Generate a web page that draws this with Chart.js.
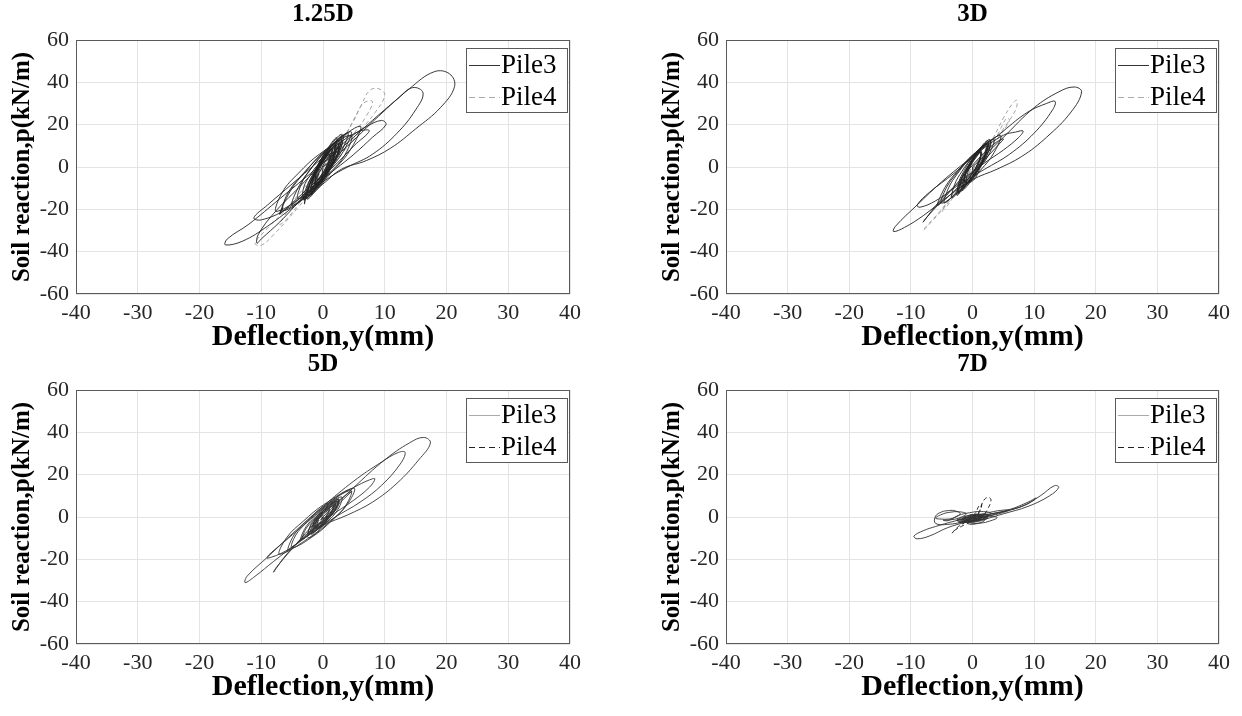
<!DOCTYPE html>
<html>
<head>
<meta charset="utf-8">
<script src="https://cdn.jsdelivr.net/npm/chart.js@4.4.1/dist/chart.umd.min.js"></script>
<style>
  body { margin: 0; background: #fff; width: 1242px; height: 716px; overflow: hidden; position: relative; }
  canvas { position: absolute; }
</style>
</head>
<body>
<canvas id="p1" width="621" height="358" style="left:0;top:0"></canvas>
<canvas id="p2" width="621" height="358" style="left:621px;top:0"></canvas>
<canvas id="p3" width="621" height="358" style="left:0;top:350px"></canvas>
<canvas id="p4" width="621" height="358" style="left:621px;top:350px"></canvas>
<script>
// axis ticks and labels
const xTickValues = [-40, -30, -20, -10, 0, 10, 20, 30, 40];
const yTickValues = [-60, -40, -20, 0, 20, 40, 60];
const xTitle = "Deflection,y(mm)";
const yTitle = "Soil reaction,p(kN/m)";
const seriesNames = ["Pile3", "Pile4"];
const panelTitles = ["1.25D", "3D", "5D", "7D"];

// p-y loops, [deflection mm, soil reaction kN/m]
const pile3_125D = [
  [0,0],[4,10],[9,24],[14,37],[18,45],[20.5,44],[21.3,38],[19,28],[15,18],[11,9],[7,3],[3,-1],[0,-8],[-4,-17],[-9,-28],[-13,-35],[-15.8,-36.8],[-15.5,-34],[-12,-27],[-7,-15],[-2,-3],[3,9],
  [8,22],[12,32],[14.5,37.5],[16.2,35],[15,27],[12,16],[8,6],[4,0],[1,-5],[-3,-14],[-7,-26],[-10,-34],[-10.7,-36],[-10.5,-32],[-8,-22],[-4,-10],[0,2],[4,13],
  [7,19],[9.5,22],[10.2,20],[8,14],[5,6],[2,-1],[-2,-10],[-6,-20],[-10,-25],[-11.2,-24],[-9,-18],[-5,-8],[-1,2],[3,12],[6,17],[7.5,17],[5,10],[2,1],[-2,-9],[-5,-17],[-7,-22],[-6.5,-19],
  [-7,-22.3],[-5.6,-11.9],[-2.7,-1.5],[0.9,8.9],[6,19.3],[4.6,8.9],[1.7,-1.5],[-1.9,-11.9],
  [-6.5,-20.7],[-5.3,-11.4],[-2.8,-2],[0.2,7.4],[4.5,16.7],[3.3,7.4],[0.8,-2],[-2.2,-11.4],
  [-5,-18.1],[-4,-9.6],[-2,-1],[0.5,7.6],[4,16.1],[3,7.6],[1,-1],[-1.5,-9.6],
  [-7.5,-21],[-6.6,-12],[-4,-3],[-0.6,6],[4.5,15],[3.6,6],[1,-3],[-2.4,-12],
  [-3,-17.5],[-2.5,-9.3],[-1.2,-1],[0.5,7.3],[3,15.5],[2.5,7.3],[1.2,-1],[-0.5,-9.3],
  [-2.4,-13.5],[-1.95,-7],[-0.8,-0.5],[0.65,6],[2.8,12.5],[2.35,6],[1.2,-0.5],[-0.25,-7],
  [-2.5,-15.2],[-2.2,-8.6],[-1.2,-2],[0,4.6],[1.9,11.2],[1.55,4.6],[0.6,-2],[-0.6,-8.6],
  [-1.7,-9.9],[-1.5,-5],[-0.7,0],[0.3,5],[1.9,9.9],[1.7,5],[0.9,0],[-0.1,-5],
  [-3,-15.5],[-2.2,-8.5],[-0.9,-1.5],[0.6,5.5],[2.6,12.5],[1.8,5.5],[0.5,-1.5],[-1,-8.5],
  [-1.4,-7.9],[-1.2,-3.7],[-0.6,0.5],[0.2,4.7],[1.4,8.9],[1.2,4.7],[0.6,0.5],[-0.2,-3.7],
  [-1.5,-8],[-1.4,-3],[-0.6,2],[0.6,7],[2.5,12],[2.4,7],[1.6,2],[0.4,-3],
  [-1,-6],[-0.9,-3],[-0.5,0],[0.1,3],[1,6],[0.9,3],[0.5,0],[-0.1,-3],
  [-3.2,-14.8],[-3.1,-9.4],[-2.1,-4],[-0.7,1.4],[1.6,6.8],[1.5,1.4],[0.5,-4],[-0.9,-9.4],
  [-1.2,-7],[-0.95,-1.5],[0,4],[1.25,9.5],[3.2,15],[2.95,9.5],[2,4],[0.75,-1.5],
  [-1.9,-13.1],[-1.3,-7.1],[-0.3,-1],[0.9,5.1],[2.5,11.1],[1.9,5.1],[0.9,-1],[-0.3,-7.1],
  [-3.1,-15.5],[-2.6,-9],[-1.4,-2.5],[0,4],[2.1,10.5],[1.6,4],[0.4,-2.5],[-1,-9],
  [-1.2,-7],[-1.15,-2.5],[-0.4,2],[0.65,6.5],[2.4,11],[2.35,6.5],[1.6,2],[0.55,-2.5],
  [-2.6,-14.9],[-2.1,-7.7],[-1,-0.5],[0.3,6.7],[2.2,13.9],[1.7,6.7],[0.6,-0.5],[-0.7,-7.7],
  [-1.9,-12],[-1.75,-7.5],[-1.1,-3],[-0.25,1.5],[1.1,6],[0.95,1.5],[0.3,-3],[-0.55,-7.5],
  [-4,-15],[-3.5,-8],[-2,-1],[0,6],[3,13],[2.5,6],[1,-1],[-1,-8],
  [-0.9,-6.2],[-0.7,-2.6],[-0.2,1],[0.5,4.6],[1.5,8.2],[1.3,4.6],[0.8,1],[0.1,-2.6],
  [-2,-12.5],[-1.8,-7],[-0.9,-1.5],[0.2,4],[2,9.5],[1.8,4],[0.9,-1.5],[-0.2,-7],[0,0]
];
const pile4_125D = [
  [0,0],[3,12],[6,28],[7.5,36],[9,37],[10,34],[8.5,26],[6,17],[3,6],[0,-5],[-4,-19],[-8,-32],[-10,-37],[-11,-36],[-9,-29],[-6,-20],[-2,-6],[2,8],[5,22],[6.5,30],[8,31],[7,24],[4,12],[1,0],[-3,-14],[-6,-25],[-7,-27],[-5,-18],[-2,-8],[1,4],[3,12],[4,16],[3,8],[0,-3],[-3,-13],[-4,-16],[-2,-7],[1,3],[2,8],[1,3],[-1,-5],[-2,-8],[0,0]
];

const pile3_3D = [
  [0,0],[5,14],[10,28],[14,35.5],[16.5,37.8],[17.7,35.5],[16,26],[12,14],[8,5],[4,-1],[0,-6],[-4,-14],[-8,-23],[-11,-28.5],[-12.8,-30.5],[-12.5,-28],[-9,-18],[-5,-7],[0,5],[5,17],
  [9,26],[12,30],[13.4,31],[13,27],[10,16],[6,6],[2,-1],[-2,-8],[-6,-16],[-8.5,-19],[-9,-18],[-7,-12],[-3,-3],[1,7],[5,15],
  [7,16.5],[8.2,17],[7.5,14],[5,8],[2,2],[-2,-7],[-5,-15],[-8,-26],[-7.5,-24],[-5,-16],[-2,-6],[1,4],[4,12],[5,13],
  [-5.5,-18],[-4.5,-9.8],[-2.3,-1.5],[0.5,6.8],[4.5,15],[3.5,6.8],[1.3,-1.5],[-1.5,-9.8],
  [-5,-17.1],[-4.2,-9.6],[-2.3,-2],[0,5.6],[3.4,13.1],[2.6,5.6],[0.7,-2],[-1.6,-9.6],
  [-2.5,-13.5],[-2.1,-7.3],[-1,-1],[0.4,5.3],[2.5,11.5],[2.1,5.3],[1,-1],[-0.4,-7.3],
  [-1.7,-11],[-1.4,-5.5],[-0.5,0],[0.6,5.5],[2.3,11],[2,5.5],[1.1,0],[0,-5.5],
  [-1.9,-9],[-1.7,-5],[-1,-1],[-0.1,3],[1.3,7],[1.1,3],[0.4,-1],[-0.5,-5],
  [-3.3,-14.6],[-2.9,-8.3],[-1.7,-2],[-0.1,4.3],[2.3,10.6],[1.9,4.3],[0.7,-2],[-0.9,-8.3],
  [-1,-6.1],[-0.8,-2.8],[-0.3,0.5],[0.4,3.8],[1.4,7.1],[1.2,3.8],[0.7,0.5],[0,-2.8],
  [-1.2,-7],[-1.05,-2],[-0.2,3],[0.95,8],[2.8,13],[2.65,8],[1.8,3],[0.65,-2],
  [-2.2,-12],[-1.7,-6.5],[-0.7,-1],[0.5,4.5],[2.2,10],[1.7,4.5],[0.7,-1],[-0.5,-6.5],
  [-2.3,-11.9],[-2.2,-7],[-1.4,-2],[-0.4,3],[1.3,7.9],[1.2,3],[0.4,-2],[-0.6,-7],
  [-2.3,-12.5],[-1.85,-6.3],[-0.7,0],[0.75,6.3],[2.9,12.5],[2.45,6.3],[1.3,0],[0.15,-6.3],
  [-1.3,-7.2],[-1.16,-3.6],[-0.6,0],[0.14,3.6],[1.3,7.2],[1.16,3.6],[0.6,0],[-0.14,-3.6],
  [-4.5,-17],[-3.9,-10],[-2.4,-3],[-0.4,4],[2.5,11],[1.9,4],[0.4,-3],[-1.6,-10],
  [-1.5,-9.5],[-1.2,-4],[-0.3,1.5],[0.8,7],[2.5,12.5],[2.2,7],[1.3,1.5],[0.2,-4],[0,0]
];
const pile4_3D = [
  [0,0],[3,12],[5,23],[6.5,30],[7.2,31.5],[7,27],[5,18],[2,6],[-1,-5],[-4,-17],[-7,-27],[-8,-30],[-7.5,-28],[-5,-20],[-2,-8],[1,3],[4,15],[5.5,23],[6,22],[4,13],[1,2],[-2,-9],[-4,-18],[-5,-21],[-3,-12],[0,-1],[2,7],[3,11],[2,5],[-1,-5],[-2,-8],[0,0]
];

const pile3_5D = [
  [0,0],[5,14],[10,27],[14,35],[16.3,37.6],[17.4,35],[15.5,27],[12,16],[8,7],[4,1],[0,-4],[-4,-12],[-8,-21],[-11,-28],[-12.6,-31],[-12.3,-28],[-9,-19],[-5,-8],[0,5],[5,17],
  [9.5,26],[12.2,30.5],[13.3,30.5],[12.5,25],[9.5,15],[6,7],[2,0],[-2,-8],[-6,-16],[-9,-19.5],[-8.8,-18],[-6,-11],[-2,-1],[2,9],[5,14],
  [7.5,17.5],[8.4,18],[7.5,14],[5,8],[1,0],[-3,-9],[-6,-18],[-8,-26],[-7.6,-24],[-5,-15],[-2,-5],[1,4],[4,11],[4.6,12],
  [-5.5,-15.5],[-4.7,-8.5],[-2.5,-1.5],[0.3,5.5],[4.5,12.5],[3.7,5.5],[1.5,-1.5],[-1.3,-8.5],
  [-5,-14.5],[-4.4,-8.5],[-2.6,-2.5],[-0.4,3.5],[3,9.5],[2.4,3.5],[0.6,-2.5],[-1.6,-8.5],
  [-7,-17.6],[-5.9,-9.8],[-3.2,-2],[0.1,5.8],[5,13.6],[3.9,5.8],[1.2,-2],[-2.1,-9.8],
  [-2.5,-9.3],[-2.1,-4.9],[-1,-0.5],[0.4,3.9],[2.5,8.3],[2.1,3.9],[1,-0.5],[-0.4,-4.9],
  [-2.3,-8.1],[-2.1,-4.3],[-1.2,-0.5],[-0.1,3.3],[1.7,7.1],[1.5,3.3],[0.6,-0.5],[-0.5,-4.3],
  [-1.3,-5],[-1.15,-2.3],[-0.5,0.3],[0.35,2.9],[1.7,5.6],[1.55,2.9],[0.9,0.3],[0.05,-2.3],
  [-3.5,-10.6],[-3,-5.8],[-1.7,-1],[0,3.8],[2.5,8.6],[2,3.8],[0.7,-1],[-1,-5.8],
  [-1,-4],[-0.93,-2],[-0.5,0],[0.07,2],[1,4],[0.93,2],[0.5,0],[-0.07,-2],
  [-1.5,-4.5],[-1.35,-1.5],[-0.5,1.5],[0.65,4.5],[2.5,7.5],[2.35,4.5],[1.5,1.5],[0.35,-1.5],
  [-1.8,-8.2],[-1.5,-4.6],[-0.7,-1],[0.3,2.6],[1.8,6.2],[1.5,2.6],[0.7,-1],[-0.3,-4.6],
  [-1.9,-7.2],[-1.6,-3.4],[-0.6,0.5],[0.6,4.4],[2.5,8.2],[2.2,4.4],[1.2,0.5],[0,-3.4],
  [-1.6,-5.5],[-1.45,-2.9],[-0.9,-0.3],[-0.15,2.3],[1,4.9],[0.85,2.3],[0.3,-0.3],[-0.45,-2.9],
  [-3.3,-10.5],[-2.85,-6],[-1.6,-1.5],[0,3],[2.3,7.5],[1.85,3],[0.6,-1.5],[-1,-6],
  [-1.2,-5.1],[-1.1,-2.1],[-0.4,1],[0.5,4.1],[2,7.1],[1.9,4.1],[1.2,1],[0.3,-2.1],[0,0]
];
const pile4_5D = [
  [0,0],[-1.8,-6.5],[-2.2,-7.5],[-1.5,-3.5],[-0.6,0.5],[0.8,4.5],[2,7],[1.8,4.5],[0.8,0.5],[-0.5,-3.5],[-1.5,-6],[-1.2,-4],[-0.4,-0.5],[0.6,2.5],[1.5,5],[1.3,2.5],[0.4,-0.5],[-0.5,-3],[0,0]
];

const pile3_7D = [
  [0,0],[4,2],[8,5],[11,10],[13.3,14.8],[14,14],[12.5,10],[9,5],[5,1.5],[2,-1],[-1,-2.5],[-4,-5],[-7,-9],[-9,-10.3],[-9.5,-9],[-8,-6.5],[-6,-4.5],[-3,-2],[0,0],[3,1.5],[6,3.5],[9,7],[10.3,9],[10,8],[8,5],[5,2.5],[2,0],[-1,-2],[-4,-3.5],[-6,-3],
  [-6,0.4],[-5,2.4],[-4,3],[-3,3],[-2,1.6],[-3,-0.4],[-4,-1],[-5,-1],
  [-6,-0.5],[-4.75,1.5],[-3.5,2.3],[-2.25,2.5],[-1,1.5],[-2.25,-0.5],[-3.5,-1.3],[-4.75,-1.5],
  [-4,-1.75],[-2.25,0.8],[-0.5,2],[1.25,2.6],[3,1.75],[1.25,-0.8],[-0.5,-2],[-2.25,-2.6],
  [0,-0.3],[1.5,1.3],[3,2.3],[4.5,3.1],[6,3.3],[4.5,1.7],[3,0.7],[1.5,-0.1],
  [-2.5,-1.5],[-1.25,0.28],[0,1],[1.25,1.28],[2.5,0.5],[1.25,-1.28],[0,-2],[-1.25,-2.28],
  [-1.7,-1.5],[-0.7,0.12],[0.3,0.9],[1.3,1.32],[2.3,0.9],[1.3,-0.72],[0.3,-1.5],[-0.7,-1.92],
  [-1.5,-0.75],[-0.75,0.5],[0,1],[0.75,1.2],[1.5,0.75],[0.75,-0.5],[0,-1],[-0.75,-1.2],
  [-1.5,-2.5],[-0.5,-1.3],[0.5,-0.7],[1.5,-0.3],[2.5,-0.5],[1.5,-1.7],[0.5,-2.3],[-0.5,-2.7],
  [-2.5,-1.75],[-1.25,-0.5],[0,0],[1.25,0.2],[2.5,-0.25],[1.25,-1.5],[0,-2],[-1.25,-2.2],
  [-0.9,-1.2],[-0.3,-0.3],[0.3,0.2],[0.9,0.5],[1.5,0.2],[0.9,-0.7],[0.3,-1.2],[-0.3,-1.5],
  [-2,-2.7],[-0.5,-0.8],[1,0],[2.5,0.4],[4,-0.3],[2.5,-2.2],[1,-3],[-0.5,-3.4],
  [-1,-2],[0,-3],[1.5,-2.5],[2,-1],[1,0.5],[-0.5,0],[-1,-1.5],[0,-2],[1,-1.5],[0.5,-0.5],[0,0]
];
const pile4_7D = [
  [0,0],[1,2],[1.5,6],[2,8.5],[2.6,9.3],[3,8],[2.5,4],[1.5,0],[0,-2],[-1.5,-4],[-3,-6.5],[-3.3,-7.6],[-2.5,-5],[-1,-2],[0.5,2],[1,5],[1.5,6],[1.2,3],[0.5,0],[-1,-2],[-1.5,-3],[-0.5,-1],[0.5,1],
  [-2,-1.5],[-0.5,0.8],[1,1.2],[2,0],[1,-1.5],[-0.5,-2],[-1.5,-1.2],[0,0.3],[1.2,0.4],[0.5,-0.8],[0,0]
];

const serif = "'Liberation Serif', 'Times New Roman', serif";

// frame around the axes plus a boxed legend in the top right corner
const boxLegend = {
  id: "boxLegend",
  afterDraw(chart) {
    const { ctx, chartArea: a } = chart;
    ctx.save();
    ctx.strokeStyle = "#5a5a5a";
    ctx.lineWidth = 1;
    const L = Math.round(a.left), T = Math.round(a.top);
    ctx.strokeRect(L + 0.5, T + 0.5, Math.round(a.right) - L - 1, Math.round(a.bottom) - T - 1);
    const w = 101, h = 64;
    const bx = Math.round(a.right) - 3 - w, by = T + 8;
    ctx.fillStyle = "#fff";
    ctx.fillRect(bx, by, w, h);
    ctx.strokeRect(bx + 0.5, by + 0.5, w, h);
    ctx.font = "27px " + serif;
    ctx.textBaseline = "middle";
    chart.data.datasets.forEach((ds, i) => {
      const yy = by + 17 + i * 32;
      ctx.strokeStyle = ds.legendColor;
      ctx.setLineDash(ds.borderDash ? [6, 4] : []);
      ctx.beginPath();
      ctx.moveTo(bx + 3, yy + 0.5);
      ctx.lineTo(bx + 34, yy + 0.5);
      ctx.stroke();
      ctx.setLineDash([]);
      ctx.fillStyle = "#000";
      ctx.fillText(ds.label, bx + 35, yy + 1);
    });
    ctx.restore();
  }
};

function toPts(arr) {
  return arr.map(([x, y]) => ({ x, y }));
}

function panel(id, title, p3, p4, padLeft, padRight, look) {
  return new Chart(document.getElementById(id), {
    type: "scatter",
    data: {
      datasets: [
        { label: seriesNames[0], data: toPts(p3), showLine: true, borderColor: look.c3, legendColor: look.l3,
          borderWidth: 0.9, pointRadius: 0, tension: 0.4 },
        { label: seriesNames[1], data: toPts(p4), showLine: true, borderColor: look.c4, legendColor: look.l4,
          borderDash: [4, 3], borderWidth: 0.9, pointRadius: 0, tension: 0.4 },
      ],
    },
    options: {
      responsive: false,
      animation: false,
      devicePixelRatio: 1,
      layout: { padding: { left: padLeft, right: padRight, top: 0, bottom: 3 } },
      plugins: { legend: { display: false }, tooltip: { enabled: false } },
      scales: {
        x: {
          type: "linear", position: "bottom", min: -40, max: 40,
          afterBuildTicks: (s) => { s.ticks = xTickValues.map((value) => ({ value })); },
          grid: { color: "#e4e4e4", drawTicks: false },
          border: { display: false },
          ticks: { color: "#262626", font: { family: serif, size: 22 }, padding: 6, maxRotation: 0, autoSkip: false },
          title: { display: true, text: xTitle, color: "#000", font: { family: serif, size: 30, weight: "bold" }, padding: 0 },
          afterFit: (s) => { s.height = 61; s.paddingLeft = 0; s.paddingRight = 0; },
        },
        x2: {
          type: "linear", position: "top", min: -40, max: 40,
          grid: { display: false }, border: { display: false }, ticks: { display: false },
          title: { display: true, text: title, color: "#000", font: { family: serif, size: 25, weight: "bold" }, padding: 0 },
          afterFit: (s) => { s.height = 40; s.paddingLeft = 0; s.paddingRight = 0; },
        },
        y: {
          type: "linear", position: "left", min: -60, max: 60,
          afterBuildTicks: (s) => { s.ticks = yTickValues.map((value) => ({ value })); },
          grid: { color: "#e4e4e4", drawTicks: false },
          border: { display: false },
          ticks: { color: "#262626", font: { family: serif, size: 22 }, padding: 7, autoSkip: false },
          title: { display: true, text: yTitle, color: "#000", font: { family: serif, size: 25, weight: "bold" }, padding: 0 },
          afterFit: (s) => { s.width = 68; s.paddingTop = 0; s.paddingBottom = 0; },
        },
      },
    },
    plugins: [boxLegend],
  });
}

const darkFirst = { c3: "#222", l3: "#333", c4: "#9a9a9a", l4: "#aaa" };
const lightFirst = { c3: "#333", l3: "#aaa", c4: "#111", l4: "#222" };

panel("p1", panelTitles[0], pile3_125D, pile4_125D, 8, 51, darkFirst);
panel("p2", panelTitles[1], pile3_3D, pile4_3D, 37, 23, darkFirst);
panel("p3", panelTitles[2], pile3_5D, pile4_5D, 8, 51, lightFirst);
panel("p4", panelTitles[3], pile3_7D, pile4_7D, 37, 23, lightFirst);
</script>
</body>
</html>
